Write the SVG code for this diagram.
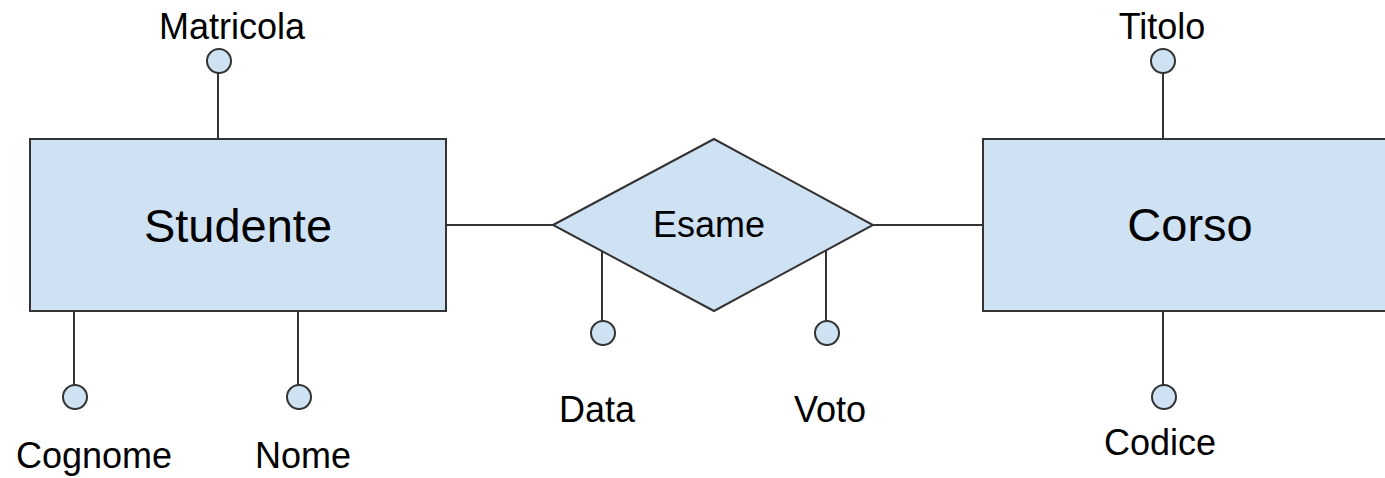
<svg xmlns="http://www.w3.org/2000/svg" width="1385" height="478" viewBox="0 0 1385 478">
<style>
.shape{fill:#cfe2f3;stroke:#333333;stroke-width:2}
.attr{fill:#cfe2f3;stroke:#333333;stroke-width:2}
.conn{stroke:#333333;stroke-width:2;fill:none}
text{font-family:"Liberation Sans",Arial,sans-serif;fill:#000000;text-anchor:middle}
.big{font-size:47px}
.lbl{font-size:36px}
</style>
<rect width="1385" height="478" fill="#ffffff"/>
<g id="connectors">
<line class="conn" x1="446" y1="225" x2="553" y2="225"/>
<line class="conn" x1="873" y1="225" x2="983" y2="225"/>
<line class="conn" x1="218" y1="73" x2="218" y2="139"/>
<line class="conn" x1="74" y1="311" x2="74" y2="385"/>
<line class="conn" x1="298" y1="311" x2="298" y2="385"/>
<line class="conn" x1="602" y1="248" x2="602" y2="321"/>
<line class="conn" x1="826" y1="251" x2="826" y2="321"/>
<line class="conn" x1="1163" y1="73" x2="1163" y2="139"/>
<line class="conn" x1="1163" y1="311" x2="1163" y2="385"/>
</g>
<g id="studente">
<rect class="shape" x="30" y="139" width="416" height="172"/>
<text class="big" x="238" y="242">Studente</text>
</g>
<g id="esame">
<polygon class="shape" points="553,225 714,139 873,225 714,311"/>
<text class="lbl" x="709" y="237">Esame</text>
</g>
<g id="corso">
<rect class="shape" x="983" y="139" width="420" height="172"/>
<text class="big" x="1190" y="241">Corso</text>
</g>
<g id="matricola">
<circle class="attr" cx="219" cy="61" r="12"/>
<text class="lbl" x="232" y="39">Matricola</text>
</g>
<g id="cognome">
<circle class="attr" cx="75" cy="397" r="12"/>
<text class="lbl" x="94" y="468">Cognome</text>
</g>
<g id="nome">
<circle class="attr" cx="299" cy="397" r="12"/>
<text class="lbl" x="303" y="468">Nome</text>
</g>
<g id="data">
<circle class="attr" cx="603" cy="333" r="12"/>
<text class="lbl" x="597" y="422">Data</text>
</g>
<g id="voto">
<circle class="attr" cx="827" cy="333" r="12"/>
<text class="lbl" x="830" y="422">Voto</text>
</g>
<g id="titolo">
<circle class="attr" cx="1163" cy="61" r="12"/>
<text class="lbl" x="1162" y="39">Titolo</text>
</g>
<g id="codice">
<circle class="attr" cx="1164" cy="397" r="12"/>
<text class="lbl" x="1160" y="455">Codice</text>
</g>
</svg>
